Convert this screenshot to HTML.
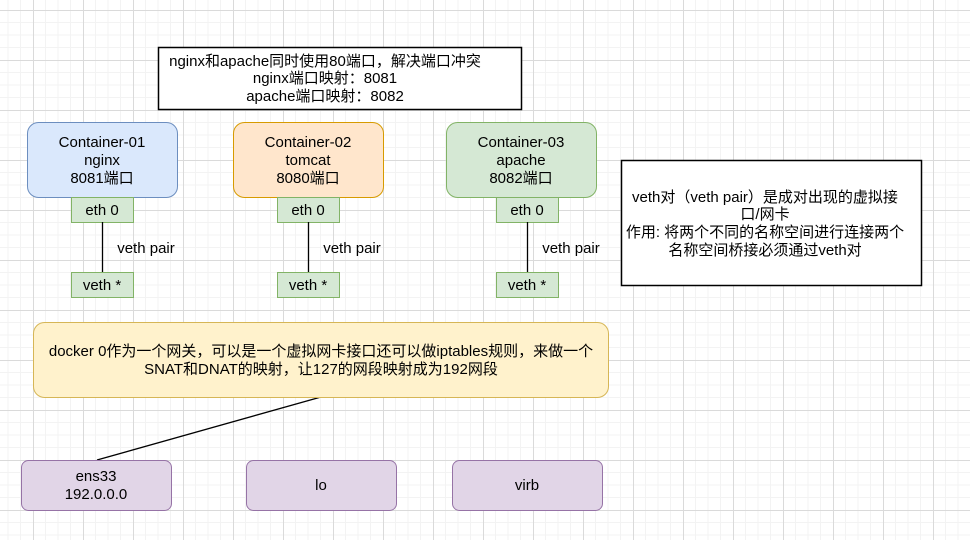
<!DOCTYPE html>
<html><head><meta charset="utf-8"><style>
html,body{margin:0;padding:0;background:#fff;}
svg{display:block;font-family:"Liberation Sans","Noto Sans CJK SC",sans-serif;}
</style></head><body>
<svg width="970" height="540" viewBox="0 0 970 540" xmlns="http://www.w3.org/2000/svg">
<defs>
<pattern id="g" x="33" y="10" width="50" height="50" patternUnits="userSpaceOnUse">
<path d="M12.5 0V50M25 0V50M37.5 0V50M0 12.5H50M0 25H50M0 37.5H50" stroke="#f3f3f3" stroke-width="1" fill="none"/>
<path d="M0.5 0V50M0 0.5H50" stroke="#dadada" stroke-width="1" fill="none"/>
</pattern>
</defs>
<rect width="970" height="540" fill="url(#g)"/>
<g font-size="15" fill="#000" text-anchor="middle">
<rect x="158.5" y="47.5" width="363" height="62" fill="#fff" stroke="#000" stroke-width="1.5"/>
<text x="325" y="66">nginx和apache同时使用80端口，解决端口冲突</text>
<text x="325" y="83">nginx端口映射：8081</text>
<text x="325" y="101">apache端口映射：8082</text>

<rect x="27.5" y="122.5" width="150" height="75" rx="11" fill="#dae8fc" stroke="#6c8ebf"/>
<text x="102" y="147">Container-01</text><text x="102" y="165">nginx</text><text x="102" y="183">8081端口</text>
<rect x="233.5" y="122.5" width="150" height="75" rx="11" fill="#ffe6cc" stroke="#d79b00"/>
<text x="308" y="147">Container-02</text><text x="308" y="165">tomcat</text><text x="308" y="183">8080端口</text>
<rect x="446.5" y="122.5" width="150" height="75" rx="11" fill="#d5e8d4" stroke="#82b366"/>
<text x="521" y="147">Container-03</text><text x="521" y="165">apache</text><text x="521" y="183">8082端口</text>

<g fill="#d5e8d4" stroke="#82b366">
<rect x="71.5" y="197.5" width="62" height="25"/><rect x="71.5" y="272.5" width="62" height="25"/>
<rect x="277.5" y="197.5" width="62" height="25"/><rect x="277.5" y="272.5" width="62" height="25"/>
<rect x="496.5" y="197.5" width="62" height="25"/><rect x="496.5" y="272.5" width="62" height="25"/>
</g>
<g stroke="#000" stroke-width="1.3">
<line x1="102.5" y1="222" x2="102.5" y2="272"/>
<line x1="308.5" y1="222" x2="308.5" y2="272"/>
<line x1="527.5" y1="222" x2="527.5" y2="272"/>
<line x1="321" y1="397" x2="97" y2="460"/>
</g>
<text x="102" y="215">eth 0</text><text x="102" y="290">veth *</text>
<text x="308" y="215">eth 0</text><text x="308" y="290">veth *</text>
<text x="527" y="215">eth 0</text><text x="527" y="290">veth *</text>
<text x="146" y="253">veth pair</text><text x="352" y="253">veth pair</text><text x="571" y="253">veth pair</text>

<rect x="621.5" y="160.5" width="300" height="125" fill="#fff" stroke="#000" stroke-width="1.5"/>
<text x="765" y="202">veth对（veth pair）是成对出现的虚拟接</text>
<text x="765" y="219">口/网卡</text>
<text x="765" y="237">作用: 将两个不同的名称空间进行连接两个</text>
<text x="765" y="255">名称空间桥接必须通过veth对</text>

<rect x="33.5" y="322.5" width="575" height="75" rx="11" fill="#fff2cc" stroke="#d6b656"/>
<text x="321" y="356">docker 0作为一个网关，可以是一个虚拟网卡接口还可以做iptables规则，来做一个</text>
<text x="321" y="374">SNAT和DNAT的映射，让127的网段映射成为192网段</text>

<g fill="#e1d5e7" stroke="#9673a6">
<rect x="21.5" y="460.5" width="150" height="50" rx="7"/>
<rect x="246.5" y="460.5" width="150" height="50" rx="7"/>
<rect x="452.5" y="460.5" width="150" height="50" rx="7"/>
</g>
<text x="96" y="481">ens33</text><text x="96" y="499">192.0.0.0</text>
<text x="321" y="490">lo</text>
<text x="527" y="490">virb</text>
</g>
</svg>
</body></html>
